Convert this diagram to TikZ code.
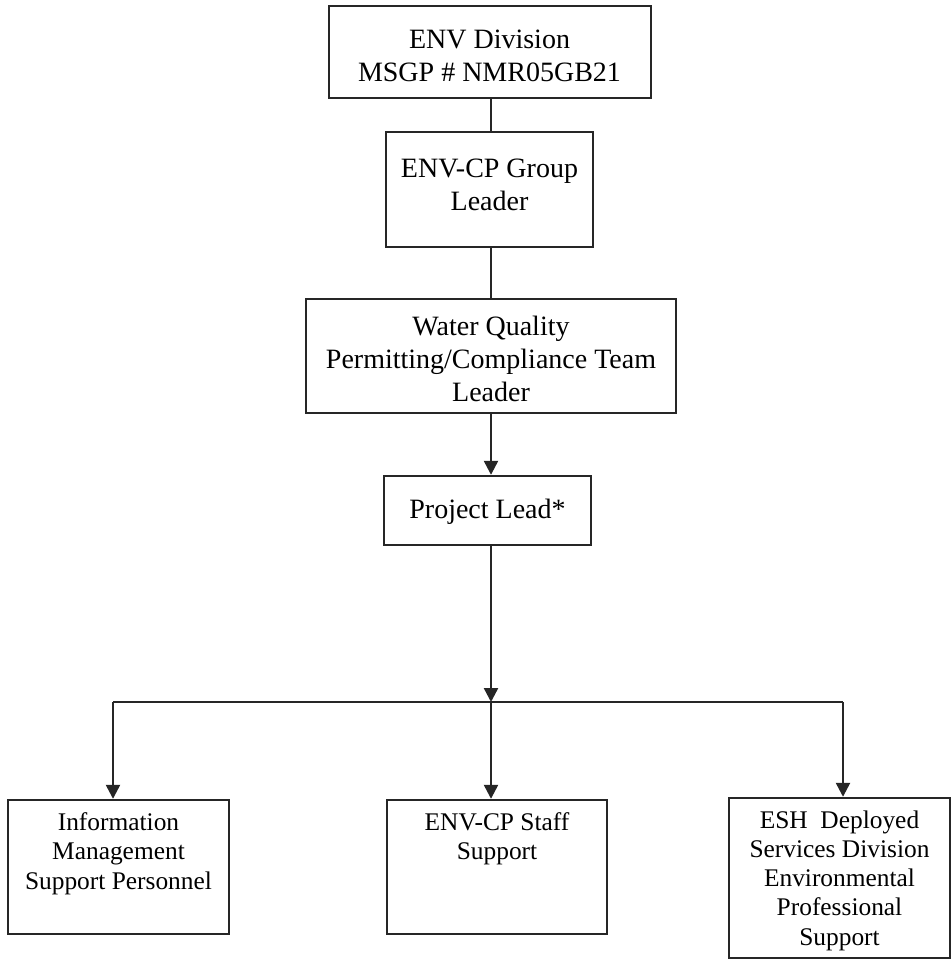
\documentclass[tikz,border=0pt]{standalone}
\usepackage{fontspec}
\setmainfont{Liberation Serif}
\usetikzlibrary{arrows.meta}
\begin{document}
\begin{tikzpicture}[x=1pt,y=-1pt,
  boxshape/.style={draw=black!85, line width=2.4pt, rectangle, inner sep=0pt},
  toptxt/.style={align=center, inner sep=0pt, font=\fontsize{28}{33}\selectfont},
  bottxt/.style={align=center, inner sep=0pt, font=\fontsize{25.4}{29.3}\selectfont},
  conn/.style={draw=black!85, line width=2.4pt},
  arr/.style={conn, -{Triangle[width=14pt,length=14pt]}}]
\useasboundingbox (0,0) rectangle (951,960);
% boxes
\node[boxshape, minimum width=322pt, minimum height=92pt] (b1) at (490,52) {};
\node[toptxt] (t1) at (489.5,55.5) {ENV Division\\MSGP \# NMR05GB21};
\node[boxshape, minimum width=207pt, minimum height=115pt] (b2) at (489.5,189.5) {};
\node[toptxt] (t2) at (489.5,185) {ENV-CP Group\\Leader};
\node[boxshape, minimum width=370pt, minimum height=114pt] (b3) at (491,356) {};
\node[toptxt] (t3) at (491,359) {Water Quality\\Permitting/Compliance Team\\Leader};
\node[boxshape, minimum width=207pt, minimum height=69pt] (b4) at (487.5,510.5) {};
\node[toptxt] (t4) at (487.5,512) {Project Lead*};
\node[boxshape, minimum width=221pt, minimum height=134pt] (b5) at (118.5,867) {};
\node[bottxt] (t5) at (118.5,853.5) {Information\\Management\\Support Personnel};
\node[boxshape, minimum width=220pt, minimum height=134pt] (b6) at (497,867) {};
\node[bottxt] (t6) at (497,838.5) {ENV-CP Staff\\Support};
\node[boxshape, minimum width=221pt, minimum height=160pt] (b7) at (839.5,878) {};
\node[bottxt] (t7) at (839.5,880.5) {ESH\ \ Deployed\\Services Division\\Environmental\\Professional\\Support};
% connector points
\coordinate (hl) at (113,702);
\coordinate (hm) at (491,702);
\coordinate (hr) at (843,702);
% connectors
\draw[conn] (b1.south -| hm) -- (b2.north -| hm);
\draw[conn] (b2.south -| hm) -- (b3.north -| hm);
\draw[arr] (b3.south -| hm) -- (b4.north -| hm);
\draw[arr] (b4.south -| hm) -- (hm);
\draw[conn] (hl) -- (hr);
\draw[arr] (hl) -- (b5.north -| hl);
\draw[arr] (hm) -- (b6.north -| hm);
\draw[arr] (hr) -- (b7.north -| hr);
\end{tikzpicture}
\end{document}
